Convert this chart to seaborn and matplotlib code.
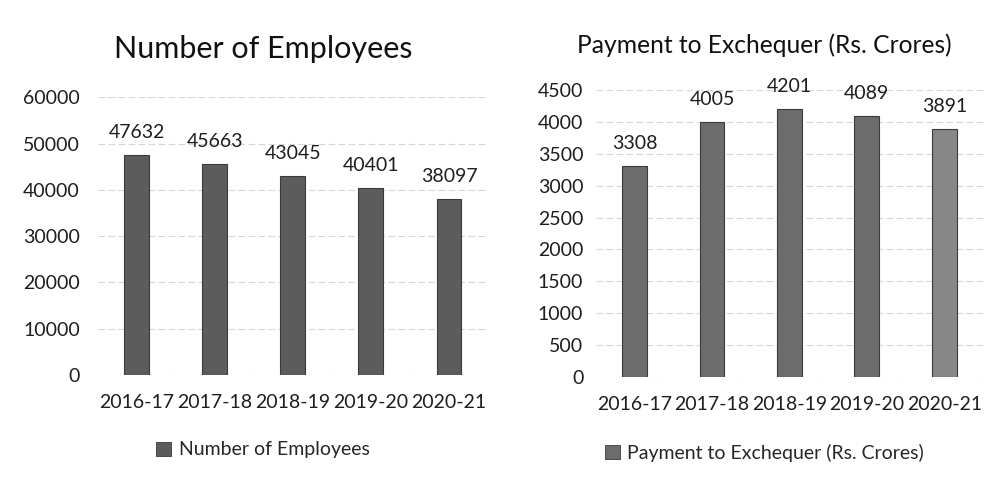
import matplotlib
matplotlib.use("Agg")
import matplotlib.pyplot as plt
import seaborn as sns
import pandas as pd
from matplotlib.patches import Patch

years = ["2016-17", "2017-18", "2018-19", "2019-20", "2020-21"]
employees = [47632, 45663, 43045, 40401, 38097]
payment = [3308, 4005, 4201, 4089, 3891]
emp_ticks = [0, 10000, 20000, 30000, 40000, 50000, 60000]
pay_ticks = [0, 500, 1000, 1500, 2000, 2500, 3000, 3500, 4000, 4500]

sns.set_theme(style="white")
plt.rcParams['font.family'] = ['Lato', 'DejaVu Sans']

fig = plt.figure(figsize=(9.98, 4.83), dpi=100)
ax1 = fig.add_axes([0.098, 0.2236, 0.391, 0.575])
ax2 = fig.add_axes([0.597, 0.2195, 0.388, 0.594])

df1 = pd.DataFrame({"year": years, "value": employees})
df2 = pd.DataFrame({"year": years, "value": payment})

bar_col1 = "#5c5c5c"
bar_col2 = "#6c6c6c"

sns.barplot(data=df1, x="year", y="value", ax=ax1, color=bar_col1, width=0.32,
            edgecolor="#3a3a3a", linewidth=0.8, saturation=1)
sns.barplot(data=df2, x="year", y="value", ax=ax2, color=bar_col2, width=0.32,
            edgecolor="#3a3a3a", linewidth=0.8, saturation=1)
# last bar on right panel appears lighter
ax2.patches[-1].set_facecolor("#878787")

def style(ax, ticks, vals, title, tsize, tpad, ypad, legend_label, leg_y, cx):
    ax.set_ylim(0, ticks[-1])
    ax.set_yticks(ticks)
    ax.set_yticklabels([str(t) for t in ticks], fontsize=14, color="#1e1e1e")
    ax.set_xlabel("")
    ax.set_ylabel("")
    ax.tick_params(axis="x", labelsize=14, colors="#1e1e1e", pad=14, length=0)
    ax.tick_params(axis="y", pad=ypad, length=0)
    for s in ax.spines.values():
        s.set_visible(False)
    ax.yaxis.grid(True, color="#d6d6d6", linestyle=(0, (6, 3)), linewidth=0.8)
    ax.set_axisbelow(True)
    for i, v in enumerate(vals):
        ax.annotate(str(v), (i, v), xytext=(0, 10), textcoords="offset points",
                    ha="center", va="bottom", fontsize=14, color="#1e1e1e")
    t = ax.set_title(title, fontsize=tsize, color="#111111", pad=tpad)
    t.set_x(cx)
    h = [Patch(facecolor=ax.patches[0].get_facecolor(), edgecolor="#3a3a3a", linewidth=0.6)]
    ax.legend(h, [legend_label], loc="center", bbox_to_anchor=(cx, leg_y),
              frameon=False, fontsize=14, handlelength=0.75, handleheight=0.75,
              handletextpad=0.4)

style(ax1, emp_ticks, employees, "Number of Employees", 22, 28, 13,
      "Number of Employees", -0.27, 0.423)
style(ax2, pay_ticks, payment, "Payment to Exchequer (Rs. Crores)", 17.7, 27, 9,
      "Payment to Exchequer (Rs. Crores)", -0.265, 0.436)

fig.savefig("out.png", dpi=100, facecolor="white")
